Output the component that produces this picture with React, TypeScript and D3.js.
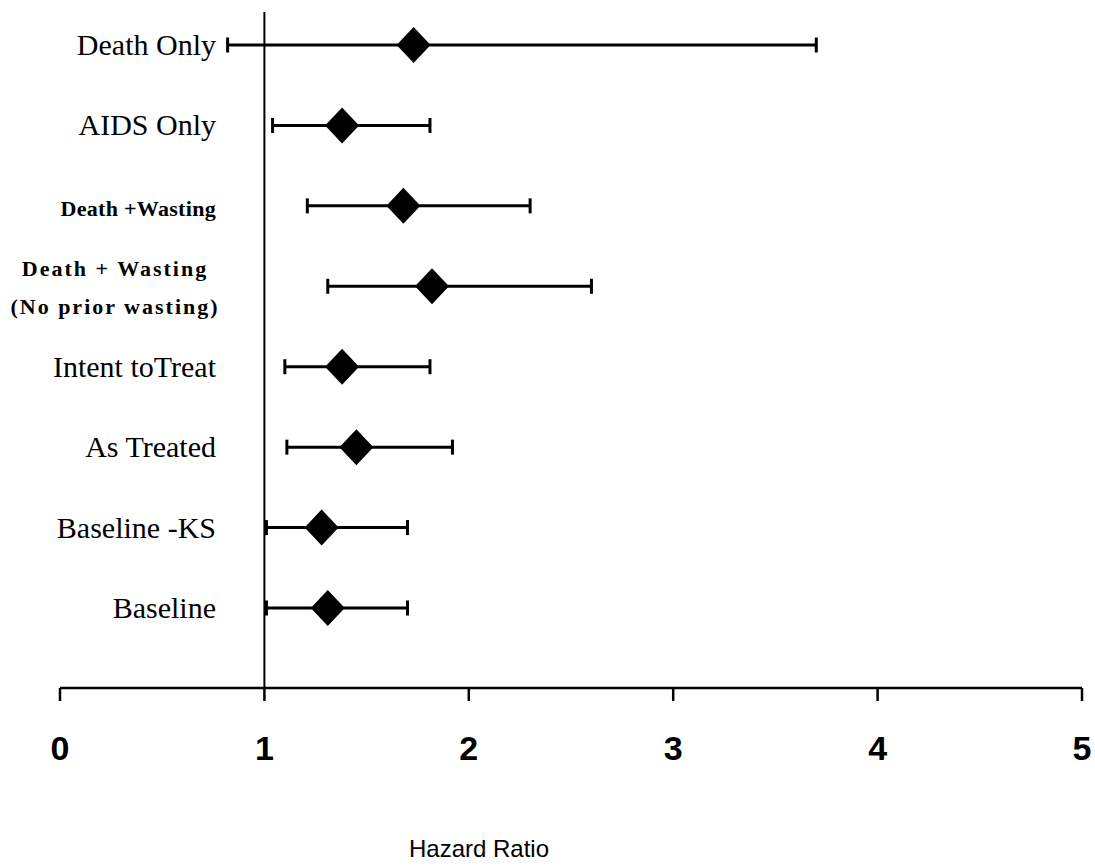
import React from "react";
import * as d3 from "d3";

const categories = [
  "Death Only",
  "AIDS Only",
  "Death +Wasting",
  "Death + Wasting|(No prior wasting)",
  "Intent toTreat",
  "As Treated",
  "Baseline -KS",
  "Baseline",
];
const hazardRatio = [1.73, 1.38, 1.68, 1.82, 1.38, 1.45, 1.28, 1.31];
const lowerCI = [0.82, 1.04, 1.21, 1.31, 1.1, 1.11, 1.01, 1.01];
const upperCI = [3.7, 1.81, 2.3, 2.6, 1.81, 1.92, 1.7, 1.7];
const xTicks = [0, 1, 2, 3, 4, 5];
const xTitle = "Hazard Ratio";

const W = 1095;
const H = 867;

export default function App() {
  const x = d3.scaleLinear().domain([0, 5]).range([60, 1082]);
  const y = d3.scalePoint<string>().domain(categories).range([45, 608]);
  const axisY = 688;
  const capH = 7.5;
  const dw = 17;
  const dh = 18;
  const diamond = (cx: number, cy: number) =>
    d3.line()([
      [cx, cy - dh],
      [cx + dw, cy],
      [cx, cy + dh],
      [cx - dw, cy],
      [cx, cy - dh],
    ]) + "Z";

  const serif = "'Liberation Serif', 'Times New Roman', serif";

  return (
    <svg
      width={W}
      height={H}
      style={{ position: "absolute", left: 0, top: 0, background: "#fff" }}
    >
      <rect x={0} y={0} width={W} height={H} fill="#fff" />
      {/* reference line at HR = 1 */}
      <line x1={x(1)} x2={x(1)} y1={12} y2={axisY} stroke="#000" strokeWidth={2} />
      {/* x axis */}
      <line x1={x(0)} x2={x(5)} y1={axisY} y2={axisY} stroke="#000" strokeWidth={2.5} />
      {xTicks.map((t) => (
        <g key={t}>
          <line x1={x(t)} x2={x(t)} y1={axisY} y2={axisY + 13} stroke="#000" strokeWidth={2.5} />
          <text
            x={x(t)}
            y={760}
            textAnchor="middle"
            fontFamily="'Liberation Sans', Arial, sans-serif"
            fontWeight="bold"
            fontSize={34}
            fill="#000"
          >
            {t}
          </text>
        </g>
      ))}
      <text
        x={479}
        y={857}
        textAnchor="middle"
        fontFamily="'Liberation Sans', Arial, sans-serif"
        fontSize={24}
        fill="#000"
      >
        {xTitle}
      </text>
      {categories.map((c, i) => {
        const cy = y(c) as number;
        const special = c.includes("Wasting");
        const lines = c.split("|");
        return (
          <g key={c}>
            {lines.length === 1 ? (
              <text
                x={216}
                y={cy + 10}
                textAnchor="end"
                fontFamily={serif}
                fontWeight={special ? "bold" : "normal"}
                fontSize={special ? 22 : 30}
                letterSpacing={special ? 0.3 : 0}
                fill="#000"
              >
                {c}
              </text>
            ) : (
              lines.map((ln, k) => (
                <text
                  key={k}
                  x={115}
                  y={cy - 10 + k * 38}
                  textAnchor="middle"
                  fontFamily={serif}
                  fontWeight="bold"
                  fontSize={22}
                  letterSpacing={2}
                  fill="#000"
                >
                  {ln}
                </text>
              ))
            )}
            <line
              x1={x(lowerCI[i])}
              x2={x(upperCI[i])}
              y1={cy}
              y2={cy}
              stroke="#000"
              strokeWidth={3}
            />
            <line x1={x(lowerCI[i])} x2={x(lowerCI[i])} y1={cy - capH} y2={cy + capH} stroke="#000" strokeWidth={3} />
            <line x1={x(upperCI[i])} x2={x(upperCI[i])} y1={cy - capH} y2={cy + capH} stroke="#000" strokeWidth={3} />
            <path d={diamond(x(hazardRatio[i]), cy)} fill="#000" />
          </g>
        );
      })}
    </svg>
  );
}
